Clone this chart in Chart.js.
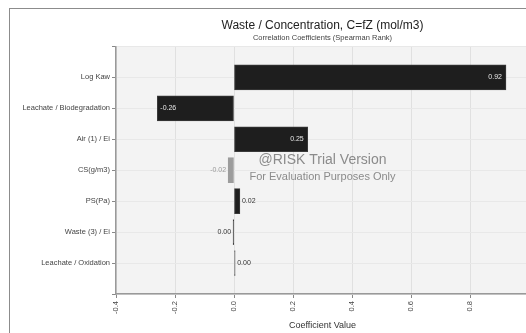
<!DOCTYPE html>
<html>
<head>
<meta charset="utf-8">
<script src="https://cdn.jsdelivr.net/npm/chart.js@4.4.1/dist/chart.umd.min.js"></script>
<style>
  html, body { margin: 0; padding: 0; background: #fff; overflow: hidden; }
  body { width: 526px; height: 333px; position: relative; }
  #frame { position: absolute; left: 9px; top: 8px; width: 700px; height: 400px;
           border-left: 1px solid #8c8c8c; border-top: 1px solid #8c8c8c; }
  #wrap { position: absolute; left: 10px; top: 9px; width: 535px; height: 324px; }
</style>
</head>
<body>
<div id="frame"></div>
<div id="wrap"><canvas id="tornado"></canvas></div>
<script>
// inputs, top to bottom
const categories = ['Log Kaw', 'Leachate / Biodegradation', 'Air (1) / Ei', 'CS(g/m3)',
                    'PS(Pa)', 'Waste (3) / Ei', 'Leachate / Oxidation'];
// Spearman rank coefficients
const coefficients = [0.922, -0.26, 0.25, -0.02, 0.02, -0.003, 0.004];
const xTicks = [-0.4, -0.2, 0.0, 0.2, 0.4, 0.6, 0.8, 1.0];

const barColors = ['#1e1e1e', '#1e1e1e', '#1e1e1e', '#9c9c9c', '#1e1e1e', '#111111', '#6a6a6a'];
const outsideLabelColors = ['#333', '#333', '#333', '#9a9a9a', '#333', '#333', '#333'];

const FONT = "'Liberation Sans', Arial, sans-serif";

function fmt(v) {
    if (Math.abs(v) < 0.005) return '0.00';
    return v.toFixed(2);
}

// light gray plot background
const plotBg = {
    id: 'plotBg',
    beforeDraw(chart) {
        const { ctx, chartArea: a } = chart;
        ctx.save();
        ctx.fillStyle = '#f3f3f3';
        ctx.fillRect(a.left, a.top, a.right - a.left, a.bottom - a.top);
        ctx.restore();
    }
};

// value labels on / beside each bar
const valueLabels = {
    id: 'valueLabels',
    afterDatasetsDraw(chart) {
        const ctx = chart.ctx;
        const meta = chart.getDatasetMeta(0);
        ctx.save();
        ctx.font = '7px ' + FONT;
        ctx.textBaseline = 'middle';
        meta.data.forEach((bar, i) => {
            const v = coefficients[i];
            const w = Math.abs(bar.x - bar.base);
            const txt = fmt(v);
            if (w > 30) {
                ctx.fillStyle = '#e6e6e6';
                if (v >= 0) { ctx.textAlign = 'right'; ctx.fillText(txt, bar.x - 4, bar.y); }
                else { ctx.textAlign = 'left'; ctx.fillText(txt, bar.x + 3, bar.y); }
            } else {
                ctx.fillStyle = outsideLabelColors[i];
                if (v >= 0) { ctx.textAlign = 'left'; ctx.fillText(txt, Math.max(bar.x, bar.base) + 2, bar.y); }
                else { ctx.textAlign = 'right'; ctx.fillText(txt, Math.min(bar.x, bar.base) - 2, bar.y); }
            }
        });
        ctx.restore();
    }
};

// trial watermark
const watermark = {
    id: 'watermark',
    afterDraw(chart) {
        const ctx = chart.ctx;
        const a = chart.chartArea;
        const cx = (a.left + a.right) / 2;
        ctx.save();
        ctx.fillStyle = 'rgba(120,120,120,0.85)';
        ctx.textAlign = 'center';
        ctx.textBaseline = 'middle';
        ctx.font = '14px ' + FONT;
        ctx.fillText('@RISK Trial Version', cx, 151);
        ctx.font = '11px ' + FONT;
        ctx.fillText('For Evaluation Purposes Only', cx, 168);
        ctx.restore();
    }
};

new Chart(document.getElementById('tornado'), {
    type: 'bar',
    data: {
        datasets: [{
            data: coefficients.map((v, i) => ({ x: v, y: i })),
            backgroundColor: barColors,
            borderColor: barColors.map(c => c === '#1e1e1e' ? '#3a3a3a' : c),
            borderWidth: 1,
            borderSkipped: false,
            barThickness: 25
        }]
    },
    options: {
        indexAxis: 'y',
        responsive: true,
        maintainAspectRatio: false,
        devicePixelRatio: 1,
        animation: false,
        layout: { padding: { left: 0, right: 16, top: 0, bottom: 0 } },
        plugins: {
            legend: { display: false },
            tooltip: { enabled: false },
            title: {
                display: true,
                text: 'Waste / Concentration, C=fZ (mol/m3)',
                fullSize: false,
                color: '#222',
                font: { family: FONT, size: 12, weight: 'normal' },
                padding: { top: 9, bottom: 1 }
            },
            subtitle: {
                display: true,
                text: 'Correlation Coefficients (Spearman Rank)',
                fullSize: false,
                color: '#444',
                font: { family: FONT, size: 7.5 },
                padding: { top: 0, bottom: 4 }
            }
        },
        scales: {
            x: {
                type: 'linear',
                min: xTicks[0],
                max: xTicks[xTicks.length - 1],
                afterBuildTicks: s => { s.ticks = xTicks.map(v => ({ value: v })); },
                afterFit: s => { s.height = 39; },
                grid: { color: '#e0e0e0', tickColor: '#888', tickLength: 4 },
                border: { color: '#999', width: 1.5 },
                ticks: {
                    color: '#444',
                    font: { family: FONT, size: 7.5 },
                    minRotation: 90, maxRotation: 90,
                    padding: 3,
                    callback: v => (Math.abs(v) < 1e-9 ? 0 : v).toFixed(1)
                },
                title: {
                    display: true,
                    text: 'Coefficient Value',
                    color: '#333',
                    font: { family: FONT, size: 9 },
                    padding: { top: 1, bottom: 2 }
                }
            },
            y: {
                type: 'linear',
                reverse: true,
                offset: false,
                min: -1,
                max: categories.length,
                afterBuildTicks: s => {
                    const t = [];
                    for (let i = -1; i <= categories.length; i++) t.push({ value: i });
                    s.ticks = t;
                },
                afterFit: s => { s.width = 106; },
                grid: { offset: false, color: '#e8e8e8', tickColor: '#888', tickLength: 4 },
                border: { color: '#999', width: 1.5 },
                ticks: {
                    autoSkip: false,
                    color: '#444',
                    font: { family: FONT, size: 7.5 },
                    padding: 2,
                    callback: v => categories[v] || ''
                }
            }
        }
    },
    plugins: [plotBg, valueLabels, watermark]
});
</script>
</body>
</html>
